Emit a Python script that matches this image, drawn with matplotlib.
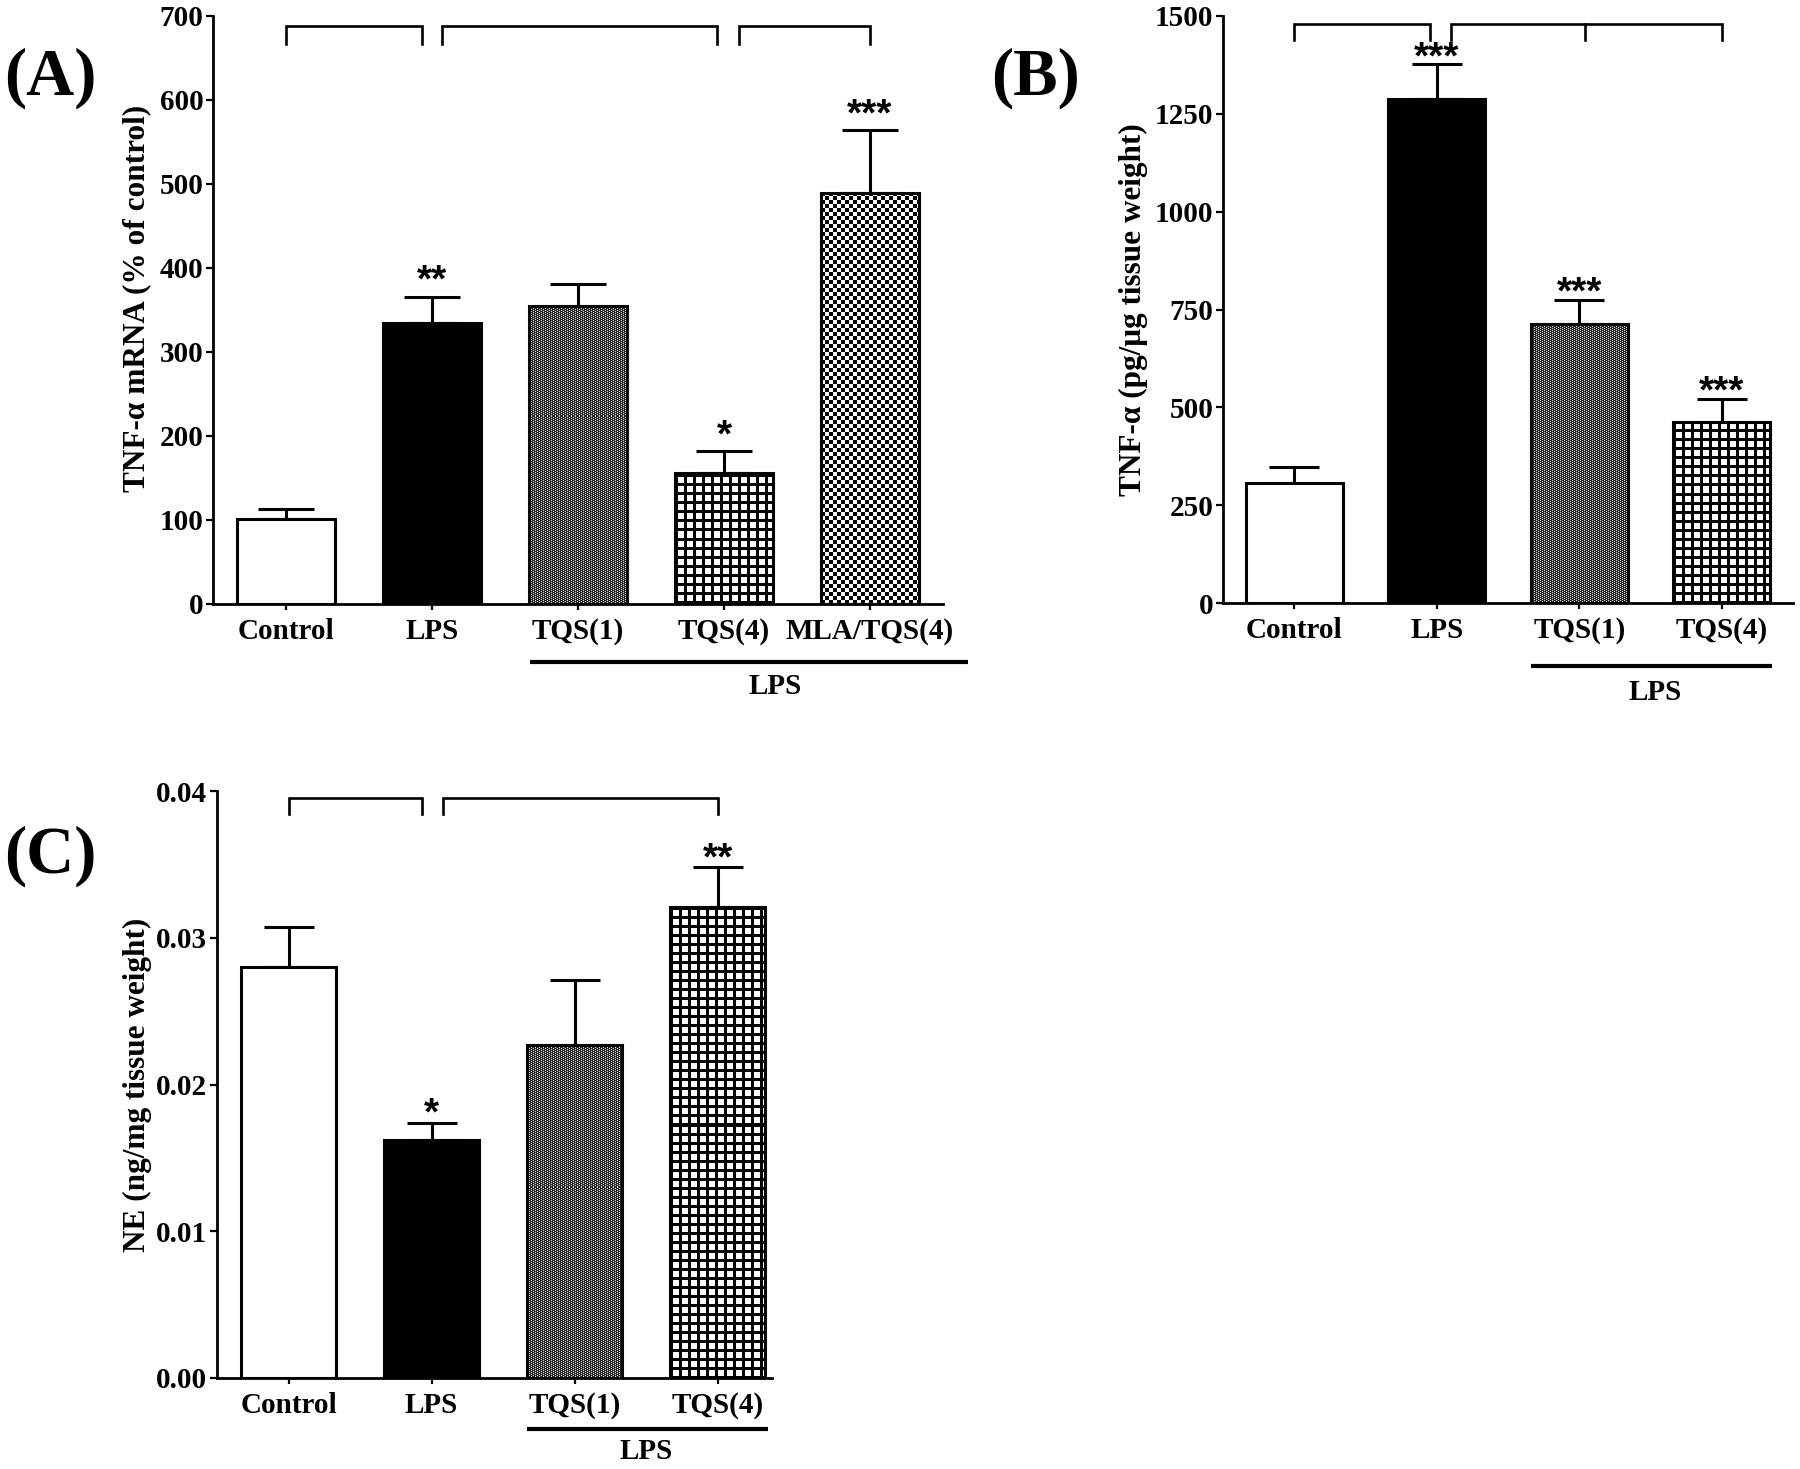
import numpy as np
import matplotlib
matplotlib.use("Agg")
import matplotlib.pyplot as plt
from matplotlib.transforms import blended_transform_factory

# ---------------- data ----------------
A_cats = ["Control", "LPS", "TQS(1)", "TQS(4)", "MLA/TQS(4)"]
A_mean = [101, 335, 355, 156, 489]
A_sem = [12, 31, 26, 26, 75]
A_stars = ["", "**", "", "*", "***"]
A_yticks = [0, 100, 200, 300, 400, 500, 600, 700]
A_brackets = [(0, 0.93), (1.07, 2.95), (3.1, 4.0)]
A_br_level = (688, 667)

B_cats = ["Control", "LPS", "TQS(1)", "TQS(4)"]
B_mean = [307, 1287, 712, 463]
B_sem = [41, 90, 63, 59]
B_stars = ["", "***", "***", "***"]
B_yticks = [0, 250, 500, 750, 1000, 1250, 1500]
B_brackets = [(0, 0.95), (1.1, 3.0)]
B_br_mid = 2.04
B_br_level = (1479, 1438)

C_cats = ["Control", "LPS", "TQS(1)", "TQS(4)"]
C_mean = [0.0280, 0.0162, 0.0227, 0.0321]
C_sem = [0.0027, 0.0012, 0.0044, 0.0027]
C_stars = ["", "*", "", "**"]
C_yticks = [0.00, 0.01, 0.02, 0.03, 0.04]
C_yticklabels = ["0.00", "0.01", "0.02", "0.03", "0.04"]
C_brackets = [(0, 0.935), (1.08, 3.0)]
C_br_level = (0.0395, 0.0384)

# ---------------- style ----------------
SERIF = ["Liberation Serif", "DejaVu Serif"]
SANS = ["Liberation Sans", "DejaVu Sans"]
plt.rcParams["font.family"] = SERIF
plt.rcParams["font.weight"] = "bold"
FS = 21
LW = 2.2

fig = plt.figure(figsize=(18, 14.69), dpi=100)


def texture(ax, patch, kind):
    bx, bw, bh = patch.get_x(), patch.get_width(), patch.get_height()
    (x0, y0), (x1, y1) = ax.transData.transform([(bx, 0), (bx + bw, bh)])
    x0, y0 = np.floor(x0), np.floor(y0)
    w = max(int(np.ceil(x1 - x0)) + 1, 1)
    h = max(int(np.ceil(y1 - y0)) + 1, 1)
    inv = ax.transData.inverted()
    (ex0, ey0), (ex1, ey1) = inv.transform([(x0, y0), (x0 + w, y0 + h)])
    yy, xx = np.mgrid[0:h, 0:w]
    if kind == "grid":
        dark = ((yy % 9) < 3) | ((xx % 9) < 3)
        img = np.where(dark, 0.0, 1.0)
    elif kind == "checker":
        dark = ((yy // 4 + xx // 4) % 2) == 0
        img = np.where(dark, 0.0, 1.0)
    elif kind == "fine":
        light = ((xx + 2 * yy) % 4) == 0
        img = np.where(light, 0.9, 0.15)
    else:
        return
    im = ax.imshow(img, cmap="gray", vmin=0, vmax=1, extent=(ex0, ex1, ey0, ey1),
                   origin="lower", interpolation="nearest", aspect="auto", zorder=1.5)
    im.set_clip_path(patch)


def panel(rect, cats, means, sems, stars, kinds, ylim, yticks, yticklabels, ylabel,
          xlim, width, cap, star_off, ylab_xy, under, under_y, lps_x, lps_y, letter, letter_xy):
    ax = fig.add_axes(rect)
    x = np.arange(len(cats))
    ax.set_xlim(*xlim)
    ax.set_ylim(*ylim)
    faces = [{"white": "white", "black": "black"}.get(k, "none") for k in kinds]
    bars = ax.bar(x, means, width=width, color=faces, edgecolor="black",
                  linewidth=LW, zorder=3)
    for b, k in zip(bars, kinds):
        texture(ax, b, k)
    ax.errorbar(x, means, yerr=[np.zeros(len(x)), sems], fmt="none", ecolor="black",
                elinewidth=LW, capsize=cap, capthick=LW, zorder=2.5)
    for xi, m, s, st in zip(x, means, sems, stars):
        if st:
            ax.annotate(st, xy=(xi, m + s), xytext=(0, star_off), textcoords="offset points",
                        ha="center", va="baseline", fontsize=28, fontweight="bold",
                        family=SANS)
    ax.set_xlim(*xlim)
    ax.set_ylim(*ylim)
    for s in ["top", "right"]:
        ax.spines[s].set_visible(False)
    for s in ["left", "bottom"]:
        ax.spines[s].set_linewidth(2.0)
    ax.set_yticks(yticks)
    ax.set_yticklabels(yticklabels, fontsize=FS, fontweight="bold")
    ax.set_xticks(x)
    ax.set_xticklabels(cats, fontsize=FS, fontweight="bold")
    ax.tick_params(axis="y", direction="out", length=5, width=1.6, pad=2)
    ax.tick_params(axis="x", direction="out", length=4, width=1.6, pad=6)
    ax.set_ylabel(ylabel, fontsize=22.5, fontweight="bold")
    ax.yaxis.set_label_coords(*ylab_xy)
    trans = blended_transform_factory(ax.transData, ax.transAxes)
    ax.plot(under, [under_y, under_y], color="black", lw=3.0, transform=trans,
            clip_on=False, solid_capstyle="butt")
    ax.text(lps_x, lps_y, "LPS", transform=trans, ha="center", va="center",
            fontsize=FS, fontweight="bold")
    fig.text(letter_xy[0], letter_xy[1], letter, fontsize=48, fontweight="bold",
             ha="center", va="center", family=SERIF)
    return ax


def brackets(ax, spans, level, mid=None):
    top, tip = level
    for a, b in spans:
        ax.plot([a, a, b, b], [tip, top, top, tip], color="black", lw=1.9,
                clip_on=False, solid_joinstyle="miter")
    if mid is not None:
        ax.plot([mid, mid], [top, tip], color="black", lw=1.9, clip_on=False)


W, H = 1800.0, 1469.0

axA = panel([213 / W, 1 - 604 / H, 730 / W, 588 / H], A_cats, A_mean, A_sem, A_stars,
            ["white", "black", "fine", "grid", "checker"], (0, 700), A_yticks,
            [str(v) for v in A_yticks], "TNF-α mRNA (% of control)",
            (-0.5, 4.5), 0.67, 20, 3.5, (-0.084, 0.52), (1.67, 4.67), -0.0986, 3.35, -0.141,
            "(A)", (50 / W, 1 - 78 / H))
brackets(axA, A_brackets, A_br_level)

axB = panel([1223 / W, 1 - 603 / H, 570 / W, 587 / H], B_cats, B_mean, B_sem, B_stars,
            ["white", "black", "fine", "grid"], (0, 1500), B_yticks,
            [str(v) for v in B_yticks], "TNF-α (pg/μg tissue weight)",
            (-0.5, 3.5), 0.68, 18, -3.0, (-0.132, 0.5), (1.66, 3.35), -0.107, 2.53, -0.153,
            "(B)", (1035 / W, 1 - 78 / H))
brackets(axB, B_brackets, B_br_level, mid=B_br_mid)

axC = panel([217 / W, 1 - 1378 / H, 555 / W, 587 / H], C_cats, C_mean, C_sem, C_stars,
            ["white", "black", "fine", "grid"], (0, 0.04), C_yticks, C_yticklabels,
            "NE (ng/mg tissue weight)",
            (-0.5, 3.38), 0.66, 18, -1.5, (-0.117, 0.5), (1.665, 3.355), -0.087, 2.5, -0.126,
            "(C)", (50 / W, 1 - 856 / H))
brackets(axC, C_brackets, C_br_level)

fig.savefig("out.png", dpi=100, facecolor="white")
